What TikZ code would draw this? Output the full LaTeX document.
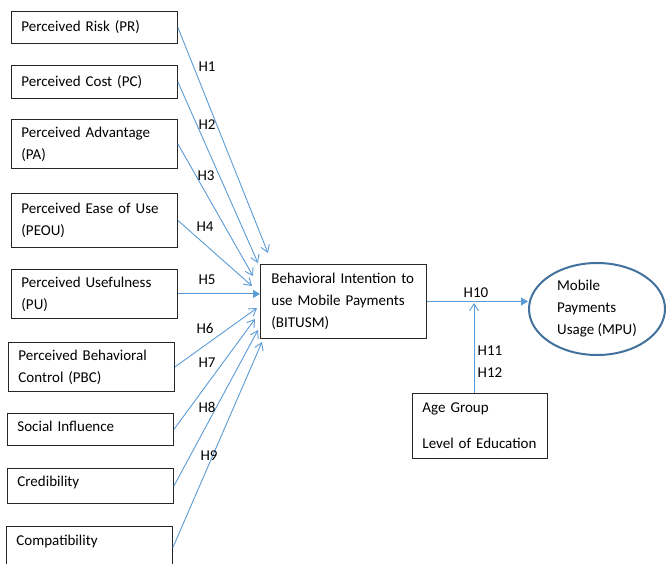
\documentclass[tikz,border=0pt]{standalone}
\usepackage{fontspec}
\setmainfont{Carlito}
\usetikzlibrary{arrows.meta,shapes.geometric}
\definecolor{linkblue}{HTML}{5B9BD5}
\definecolor{ringblue}{HTML}{41719C}
\definecolor{boxline}{HTML}{262626}

\begin{document}
\begin{tikzpicture}[x=1pt,y=-1pt,
  every node/.style={font=\fontsize{15}{22}\selectfont},
  factor/.style={draw=boxline, line width=0.9pt, rectangle, anchor=north west,
    minimum width=166pt, text width=146pt, align=left,
    inner xsep=10pt, inner ysep=0pt},
  link/.style={draw=linkblue, line width=0.9pt,
    -{Straight Barb[length=7pt,width=9pt]}},
  solidlink/.style={draw=linkblue, line width=1pt,
    -{Triangle[length=7pt,width=8pt]}},
  hyp/.style={inner sep=0pt}
]
\useasboundingbox (0,0) rectangle (666,563);
\clip (0,0) rectangle (666,563);

% predictor constructs
\node[factor, minimum height=32pt] (pr) at (11,11) {Perceived Risk (PR)};
\node[factor, minimum height=33pt] (pc) at (11,65) {Perceived Cost (PC)};
\node[factor, minimum height=49pt] (pa) at (11,119) {Perceived Advantage\\(PA)};
\node[factor, minimum height=54pt] (peou) at (11,193) {Perceived Ease of Use\\(PEOU)};
\node[factor, minimum height=49pt] (pu) at (11,269) {Perceived Usefulness\\(PU)};
\node[factor, minimum height=49pt] (pbc) at (8,342) {Perceived Behavioral\\Control (PBC)};
\node[factor, minimum height=32pt, text depth=7pt] (si) at (7,413) {Social Influence};
\node[factor, minimum height=35pt, text depth=10pt] (cred) at (7,468) {Credibility};
\node[factor, minimum height=42pt, text depth=14pt] (compat) at (6,526) {Compatibility};

% intention, usage and moderators
\node[factor, minimum height=74pt, text width=144pt, inner xsep=11pt] (bitusm) at (260,264)
  {Behavioral Intention to\\use Mobile Payments\\(BITUSM)};
\node[ellipse, draw=ringblue, line width=2pt, minimum width=136pt, minimum height=92pt,
  inner sep=0pt, align=left] (mpu) at (597,309) {Mobile\\Payments\\Usage (MPU)};
\node[factor, minimum width=135pt, minimum height=65pt, text width=115pt] (age) at (412,393)
  {Age Group\\[14pt]Level of Education};

% arrow tips at the intention box
\coordinate (t1) at (268,253);
\coordinate (t2) at (258,263);
\coordinate (t3) at (253,276);
\coordinate (t4) at (252,286);
\coordinate (t6) at (257,308);
\coordinate (t7) at (255,319);
\coordinate (t8) at (258,330);
\coordinate (t9) at (262,342);
\coordinate (modtip) at (474,303);

\draw[link] (pr.east) -- (t1);
\draw[link] (pc.east) -- (t2);
\draw[link] (pa.east) -- (t3);
\draw[link] (peou.east) -- (t4);
\draw[solidlink] (pu.east) -- (bitusm.west |- pu.east);
\draw[link] (pbc.east) -- (t6);
\draw[link] (si.east) -- (t7);
\draw[link] (cred.east) -- (t8);
\draw[link] (compat.east) -- (t9);
\draw[solidlink] (bitusm.east) -- (bitusm.east -| mpu.west);
\draw[link] (age.north -| modtip) -- (modtip);

% hypothesis labels
\node[hyp] (h1) at (207,67) {H1};
\node[hyp] (h2) at (207,125) {H2};
\node[hyp] (h3) at (206,176) {H3};
\node[hyp] (h4) at (205,227) {H4};
\node[hyp] (h5) at (207,280) {H5};
\node[hyp] (h6) at (205,328) {H6};
\node[hyp] (h7) at (207,363) {H7};
\node[hyp] (h8) at (207,407) {H8};
\node[hyp] (h9) at (209,456) {H9};
\node[hyp] (h10) at (476,293) {H10};
\node[hyp] (h11) at (490,351) {H11};
\node[hyp] (h12) at (490,373) {H12};
\end{tikzpicture}
\end{document}
